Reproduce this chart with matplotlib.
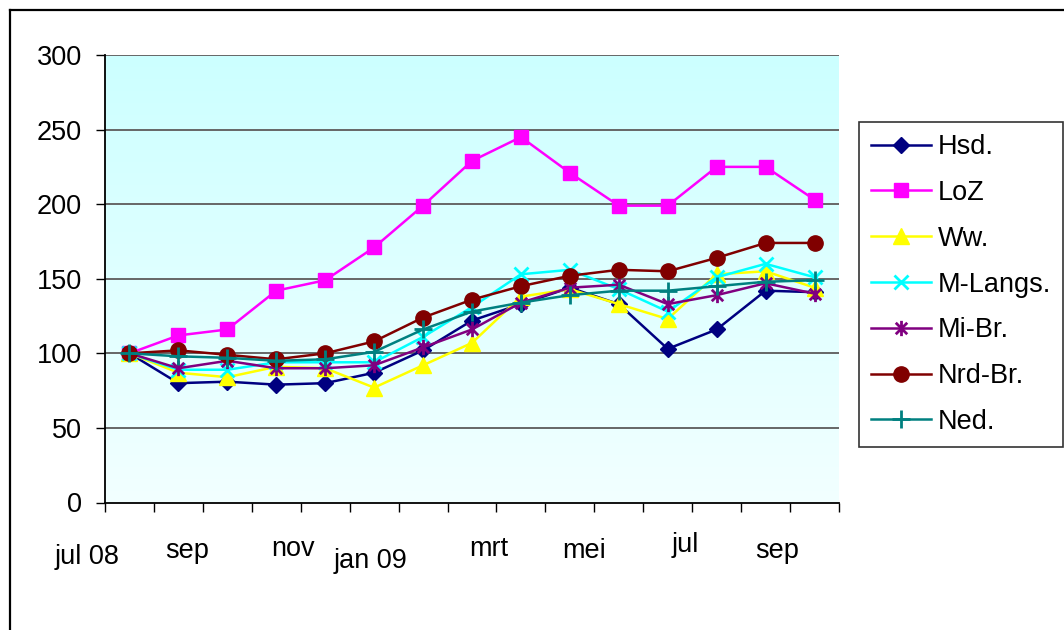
import numpy as np
import matplotlib
matplotlib.use("Agg")
import matplotlib.pyplot as plt
from matplotlib.path import Path
from matplotlib.lines import Line2D

plt.rcParams['font.family'] = ['Liberation Sans', 'DejaVu Sans']

# months jul 08 .. sep 09
months = ["jul 08", "aug", "sep", "okt", "nov", "dec", "jan 09", "feb",
          "mrt", "apr", "mei", "jun", "jul", "aug", "sep"]
tick_labels = ["jul 08", "sep", "nov", "jan 09", "mrt", "mei", "jul", "sep"]
tick_idx = [0, 2, 4, 6, 8, 10, 12, 14]
y_ticks = [0, 50, 100, 150, 200, 250, 300]

series_names = ["Hsd.", "LoZ", "Ww.", "M-Langs.", "Mi-Br.", "Nrd-Br.", "Ned."]
hsd = [100, 80, 81, 79, 80, 87, 102, 122, 133, 144, 133, 103, 116, 142, 141]
loz = [100, 112, 116, 142, 149, 171, 199, 229, 245, 221, 199, 199, 225, 225, 203]
ww = [100, 87, 84, 91, 90, 77, 92, 107, 138, 143, 133, 123, 153, 155, 144]
m_langs = [100, 89, 89, 94, 94, 94, 111, 131, 153, 156, 143, 128, 151, 160, 151]
mi_br = [100, 90, 95, 90, 90, 92, 104, 116, 134, 144, 146, 133, 139, 147, 140]
nrd_br = [100, 102, 99, 96, 100, 108, 124, 136, 145, 152, 156, 155, 164, 174, 174]
ned = [100, 98, 97, 95, 96, 101, 116, 128, 134, 139, 142, 142, 145, 148, 149]
values = [hsd, loz, ww, m_langs, mi_br, nrd_br, ned]

# asterisk marker: vertical bar plus an X
asterisk = Path([(0, -1), (0, 1), (-0.75, -0.75), (0.75, 0.75),
                 (-0.75, 0.75), (0.75, -0.75)],
                [Path.MOVETO, Path.LINETO] * 3)

styles = [
    dict(color="#000080", marker="D", ms=8.5),
    dict(color="#FF00FF", marker="s", ms=10),
    dict(color="#FFFF00", marker="^", ms=11),
    dict(color="#00FFFF", marker="x", ms=10, mew=2),
    dict(color="#800080", marker=asterisk, ms=11, mew=2),
    dict(color="#800000", marker="o", ms=11),
    dict(color="#008080", marker="+", ms=13, mew=2),
]

# label offsets in pixels (Excel staggered labels)
lab_dx = [-42, -40, -32, -53, -32, -35, -31, -37]
lab_dy = [55, 49, 46, 58, 46, 49, 43, 49]

W, H = 1064, 630
fig = plt.figure(figsize=(W / 100, H / 100), dpi=100)
fig.patch.set_facecolor("white")
ax = fig.add_axes([105 / W, 1 - 502.5 / H, 734 / W, 447.5 / H])

x = np.arange(len(months))
ax.set_xlim(-0.5, len(months) - 0.5)

# gradient background of the plot area (darker at the top)
grad = np.linspace(0, 1, 256).reshape(-1, 1)
top = np.array([204, 255, 255]) / 255
bot = np.array([242, 255, 255]) / 255
img = top + (bot - top) * grad
ax.imshow(img.reshape(256, 1, 3), extent=(-0.5, len(months) - 0.5, 0, 300),
          origin="upper", aspect="auto", zorder=0)
ax.set_ylim(0, 300)

for yv in y_ticks[1:]:
    ax.axhline(yv, color="#666666", lw=1.4, zorder=1)

for name, vals, st in zip(series_names, values, styles):
    ax.plot(x, vals, label=name, lw=1.8, color=st["color"], marker=st["marker"],
            markersize=st["ms"], markeredgewidth=st.get("mew", 1),
            markerfacecolor=st["color"], markeredgecolor=st["color"], zorder=3)

for s in ["top", "right"]:
    ax.spines[s].set_visible(False)
for s in ["left", "bottom"]:
    ax.spines[s].set_color("black")
    ax.spines[s].set_linewidth(1.3)
    ax.spines[s].set_zorder(4)

ax.set_yticks(y_ticks)
ax.tick_params(axis="y", length=6.5, width=1, pad=10, labelsize=19.5)
ax.set_xticks([])
ax.set_xticks(np.arange(-0.5, len(months)), minor=True)
ax.tick_params(axis="x", which="minor", length=6.5, width=1)

for lab, i, dx, dy in zip(tick_labels, tick_idx, lab_dx, lab_dy):
    ax.annotate(lab, xy=(i, 0), xycoords=ax.get_xaxis_transform(),
                xytext=(dx, -dy), textcoords="offset pixels",
                ha="center", va="center", fontsize=19.5, annotation_clip=False)

leg = ax.legend(loc="upper left", bbox_to_anchor=(859 / W, 1 - 122 / H),
                bbox_transform=fig.transFigure, fontsize=19.5, frameon=True,
                fancybox=False, borderaxespad=0, borderpad=0.45,
                handlelength=2.2, handletextpad=0.25, labelspacing=0.73)
leg.get_frame().set_edgecolor("black")
leg.get_frame().set_linewidth(1.2)

# chart area border (left and top visible)
fig.add_artist(Line2D([9.5 / W, 9.5 / W], [0, 1 - 9.5 / H], color="black", lw=1.6))
fig.add_artist(Line2D([9.5 / W, 1], [1 - 9.5 / H, 1 - 9.5 / H], color="black", lw=1.6))

fig.savefig("out.png", dpi=100)
